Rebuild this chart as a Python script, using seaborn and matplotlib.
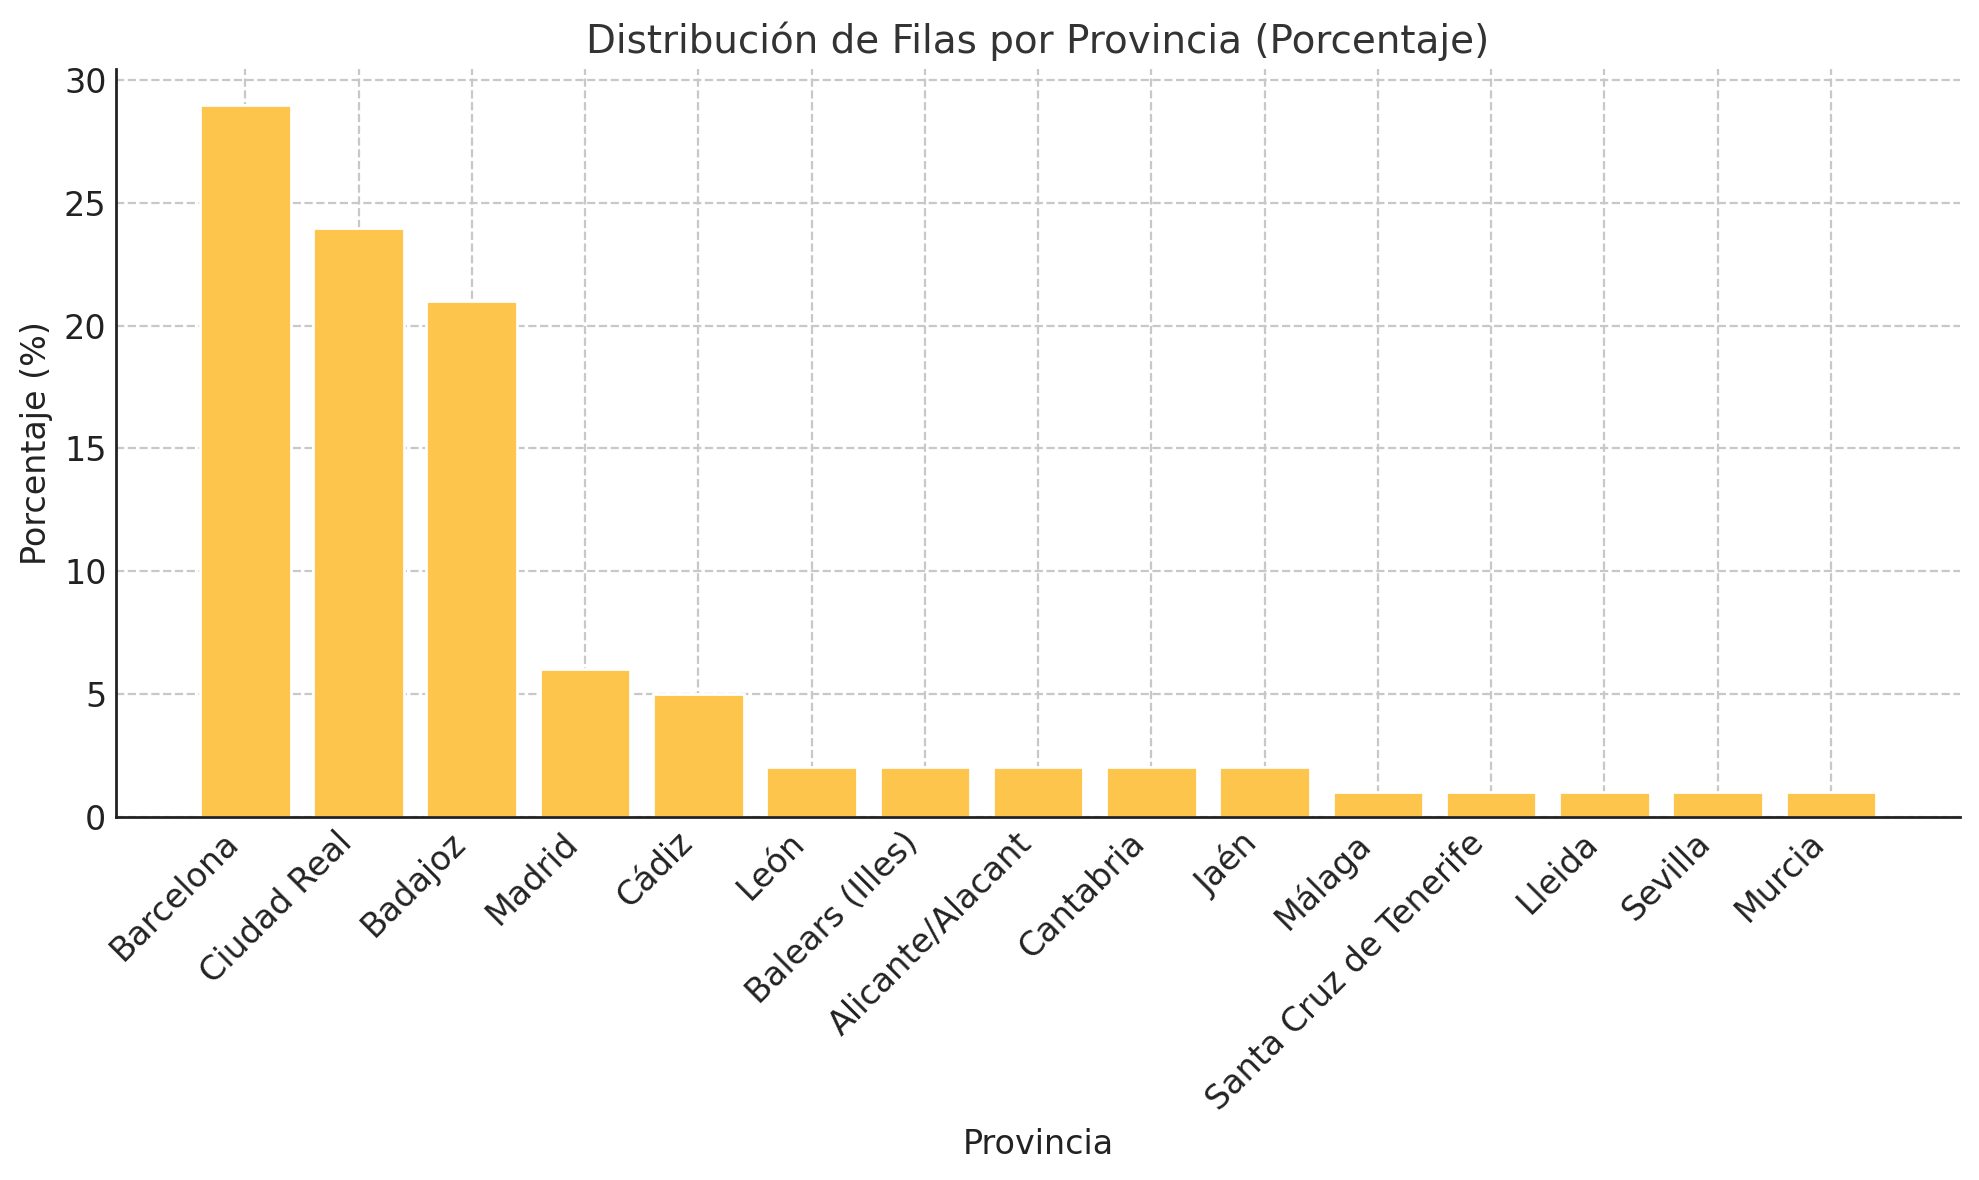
import pandas as pd
import seaborn as sns
import matplotlib.pyplot as plt

provincias = ["Barcelona", "Ciudad Real", "Badajoz", "Madrid", "Cádiz", "León",
              "Balears (Illes)", "Alicante/Alacant", "Cantabria", "Jaén", "Málaga",
              "Santa Cruz de Tenerife", "Lleida", "Sevilla", "Murcia"]
porcentajes = [29, 24, 21, 6, 5, 2, 2, 2, 2, 2, 1, 1, 1, 1, 1]

df = pd.DataFrame({"Provincia": provincias, "Porcentaje": porcentajes})

sns.set_theme(style="white")
plt.rcParams["font.family"] = ["DejaVu Sans"]

fig, ax = plt.subplots(figsize=(9.895, 5.9), dpi=200)
fig.subplots_adjust(left=0.0587, right=0.9904, top=0.9412, bottom=0.308)

sns.barplot(data=df, x="Provincia", y="Porcentaje", color="#FDC54C",
            saturation=1, width=0.8, ax=ax, zorder=2)

ax.set_xlim(-1.14, 15.14)
ax.set_ylim(0, 30.45)
ax.set_yticks([0, 5, 10, 15, 20, 25, 30])

ax.grid(True, linestyle="--", color="#c8c8c8", linewidth=0.8, zorder=0)
ax.set_axisbelow(True)
for s in ["top", "right"]:
    ax.spines[s].set_visible(False)
for s in ["left", "bottom"]:
    ax.spines[s].set_color("#222222")
    ax.spines[s].set_linewidth(1.0)

ax.tick_params(axis="both", direction="in", length=5, width=1, color="#222222",
               labelcolor="#222222", labelsize=12)
plt.setp(ax.get_xticklabels(), rotation=45, ha="right")

ax.set_title("Distribución de Filas por Provincia (Porcentaje)", fontsize=14,
             color="#333333")
ax.set_xlabel("Provincia", fontsize=12, color="#222222")
ax.set_ylabel("Porcentaje (%)", fontsize=12, color="#222222")

fig.savefig("out.png", dpi=200)
